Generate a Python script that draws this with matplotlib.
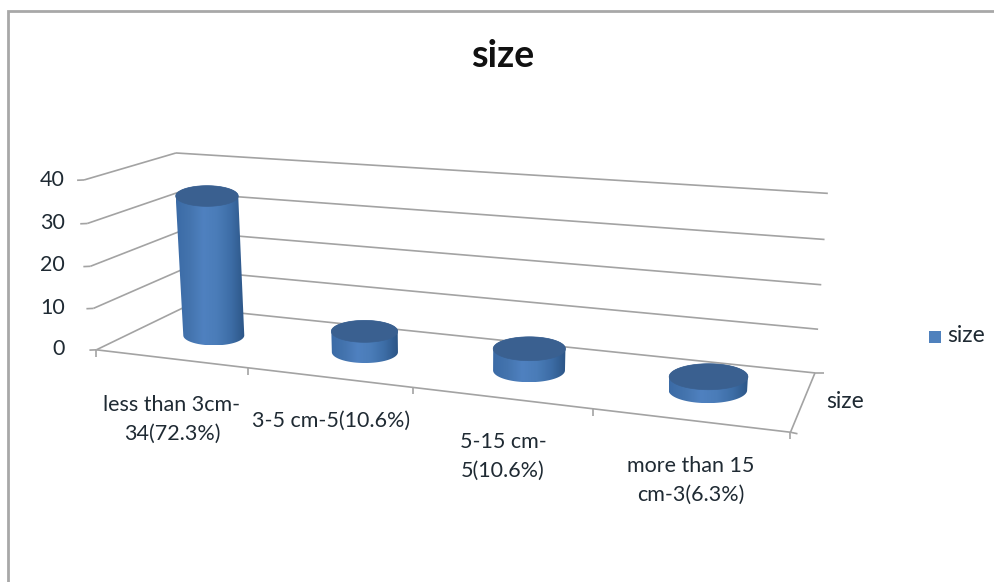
import numpy as np
import matplotlib
matplotlib.use("Agg")
import matplotlib.pyplot as plt
from matplotlib.colors import LinearSegmentedColormap
from matplotlib.patches import Polygon, Rectangle

# Chart content
title = "size"
series_name = "size"
categories = ["less than 3cm-\n34(72.3%)", "3-5 cm-5(10.6%)", "5-15 cm-\n5(10.6%)", "more than 15\ncm-3(6.3%)"]
values = [34, 5, 5, 3]
value_ticks = [0, 10, 20, 30, 40]

# Placement of the multi-line category labels and of the tick labels
category_label_xy = [(172, 419), (331, 421), (503, 456), (691, 480)]
value_label_y = [349, 308, 265, 223, 180]

FONT = "Lato"
TEXT = "#1f2a33"
GRID = "#a3a3a3"

# Camera calibration: (category, value, depth) -> screen position
calib = [
    (0, 0, 0, 97, 349), (0, 10, 0, 92, 308), (0, 20, 0, 90, 267), (0, 30, 0, 88, 223),
    (0, 40, 0, 85, 179), (1, 0, 0, 248, 370), (2, 0, 0, 413, 388), (3, 0, 0, 590, 410),
    (4, 0, 0, 792, 430), (0, 0, 1, 185, 307), (0, 40, 1, 175, 153), (4, 0, 1, 815, 372),
    (4, 10, 1, 818, 329), (4, 20, 1, 822, 285), (4, 30, 1, 824, 240), (4, 40, 1, 828, 194),
]
rows = []
for cx, cy, cz, u, v in calib:
    X = [cx / 4, cy / 40, cz, 1]
    u, v = u / 1000, v / 1000
    rows.append(X + [0, 0, 0, 0] + [-u * c for c in X])
    rows.append([0, 0, 0, 0] + X + [-v * c for c in X])
camera = np.linalg.svd(np.array(rows))[2][-1].reshape(3, 4)


def project(cat, val, depth=0.0):
    """Perspective projection of chart coordinates to screen coordinates."""
    cat, val, depth = np.broadcast_arrays(cat, val, depth)
    h = camera @ np.stack([cat / 4, val / 40, depth, np.ones_like(cat, dtype=float)])
    return np.stack([1000 * h[0] / h[2], 1000 * h[1] / h[2]], axis=-1)


def hull(points):
    pts = sorted(map(tuple, points))
    def half(seq):
        out = []
        for p in seq:
            while len(out) > 1 and np.cross(np.subtract(out[-1], out[-2]), np.subtract(p, out[-1])) <= 0:
                out.pop()
            out.append(p)
        return out[:-1]
    return np.array(half(pts) + half(pts[::-1]))


fig = plt.figure(figsize=(9.95, 5.82), dpi=100, facecolor="white")
ax = fig.add_axes([0, 0, 1, 1])
ax.axis("off")

# Outer chart frame
ax.plot([8, 8, 995], [582, 11, 11], color="#a8a8a8", lw=2, solid_joinstyle="miter")


def line(a, b, **kw):
    (x0, y0), (x1, y1) = a, b
    ax.plot([x0, x1], [y0, y1], color=GRID, lw=1.2, solid_capstyle="butt", **kw)


# Gridlines along the side and back walls, plus the value ticks
for i, v in enumerate(value_ticks):
    front, corner, end = project(0, v, 0), project(0, v, 1), project(4, v, 1)
    line(front, corner)
    line(corner, end)
    line(front, front + (-7, 0.3))
    ax.text(65, value_label_y[i], str(v), ha="right", va="center", fontsize=15.5,
            family=FONT, color=TEXT)

# Floor outline with category and depth ticks
line(project(0, 0, 0), project(4, 0, 0))
line(project(4, 0, 0), project(4, 0, 1))
line(project(4, 0, 1), project(4, 0, 1) + (9, 0))
line(project(4, 0, 0), project(4, 0, 0) + (7, 1.5))
for c in range(5):
    p = project(c, 0, 0)
    line(p, p + (0, 7))

# Cylinders: upright bodies with screen-aligned elliptical caps
body_cmap = LinearSegmentedColormap.from_list(
    "body", ["#3b6ba6", "#4474ae", "#4f81c0", "#4a7cb8", "#3d6da6", "#2c5586"])
gradient = np.linspace(0, 1, 256).reshape(1, -1)
theta = np.linspace(0, 2 * np.pi, 121)
RX, CAP_RATIO, DEPTH = 0.21, 0.33, 0.5


def cap(cat, val):
    centre = project(cat, val, DEPTH)
    half_width = (project(cat + RX, val, DEPTH) - project(cat - RX, val, DEPTH))[0] / 2
    return centre + np.column_stack([half_width * np.cos(theta),
                                     CAP_RATIO * half_width * np.sin(theta)])


for i, v in enumerate(values):
    top = cap(i + 0.5, v)
    base = cap(i + 0.5, 0)
    outline = hull(np.vstack([top, base]))
    shape = Polygon(outline, closed=True, facecolor="none", edgecolor="none", zorder=3)
    ax.add_patch(shape)
    img = ax.imshow(gradient, cmap=body_cmap, aspect="auto", zorder=3,
                    extent=(outline[:, 0].min(), outline[:, 0].max(),
                            outline[:, 1].max(), outline[:, 1].min()))
    img.set_clip_path(shape)
    ax.add_patch(Polygon(top, closed=True, facecolor="#3a6090", edgecolor="#3a6090",
                         lw=0.5, zorder=4))

# Axis and category text
for label, (x, y) in zip(categories, category_label_xy):
    ax.text(x, y, label, ha="center", va="center", fontsize=15.5, family=FONT, color=TEXT,
            linespacing=1.55)
ax.text(845, 401, series_name, ha="center", va="center", fontsize=16.5, family=FONT, color=TEXT)
ax.text(503, 56, title, ha="center", va="center", fontsize=27, fontweight="bold",
        family=FONT, color="#111111")

# Legend
ax.add_patch(Rectangle((929, 331), 12, 12, facecolor="#4f81bd", edgecolor="none"))
ax.text(947, 335, series_name, ha="left", va="center", fontsize=16.5, family=FONT, color=TEXT)

ax.set_xlim(0, 995)
ax.set_ylim(582, 0)
fig.savefig("out.png", dpi=100)
